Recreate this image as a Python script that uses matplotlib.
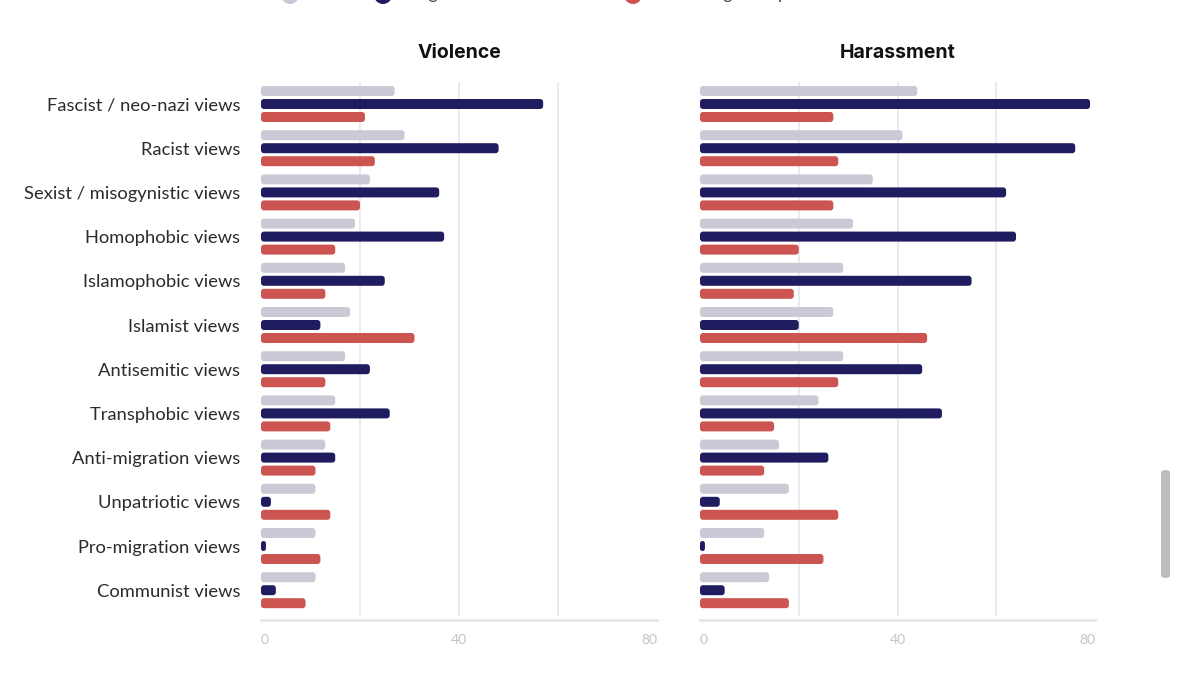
import matplotlib
matplotlib.use("Agg")
import matplotlib.pyplot as plt
from matplotlib.patches import FancyBboxPatch, Ellipse

categories = ["Fascist / neo-nazi views", "Racist views", "Sexist / misogynistic views",
              "Homophobic views", "Islamophobic views", "Islamist views",
              "Antisemitic views", "Transphobic views", "Anti-migration views",
              "Unpatriotic views", "Pro-migration views", "Communist views"]
series = ["All", "Progressive Activists", "Dissenting Disruptors"]
colors = ["#c9cad6", "#1f1c5f", "#cc5552"]

violence_all = [27, 29, 22, 19, 17, 18, 17, 15, 13, 11, 11, 11]
violence_pa = [57, 48, 36, 37, 25, 12, 22, 26, 15, 2, 1, 3]
violence_dd = [21, 23, 20, 15, 13, 31, 13, 14, 11, 14, 12, 9]

harass_all = [44, 41, 35, 31, 29, 27, 29, 24, 16, 18, 13, 14]
harass_pa = [79, 76, 62, 64, 55, 20, 45, 49, 26, 4, 1, 5]
harass_dd = [27, 28, 27, 20, 19, 46, 28, 15, 13, 28, 25, 18]

xticks = [0, 40, 80]

plt.rcParams["font.family"] = ["Lato", "DejaVu Sans"]

W, H = 1179, 675
fig = plt.figure(figsize=(W / 100, H / 100), dpi=100)

# pixel layout
top_px, bottom_px = 82, 620
row0_px, pitch_px = 104, 44.2
y_top = (top_px - row0_px) / pitch_px
y_bot = (bottom_px - row0_px) / pitch_px
offs = 13 / pitch_px
bar_h = 10 / pitch_px


def panel(left_px, right_px, title, data, show_labels):
    ax = fig.add_axes([left_px / W, 1 - bottom_px / H,
                       (right_px - left_px) / W, (bottom_px - top_px) / H])
    ax.set_xlim(0, 80)
    ax.set_ylim(y_bot, y_top)
    px_x = 80 / (right_px - left_px)       # data units per pixel, x
    px_y = 1 / pitch_px                    # data units per pixel, y
    for gx in [20, 40, 60]:
        ax.plot([gx, gx], [y_top, 11.55], color="#e8e8ec", lw=1.2, zorder=0)
    for k, vals in enumerate(data):
        for i, v in enumerate(vals):
            y0 = i + (k - 1) * offs - bar_h / 2
            r = min(3 * px_x, v / 2)
            p = FancyBboxPatch((0, y0), v, bar_h,
                               boxstyle=f"round,pad=0,rounding_size={r}",
                               mutation_aspect=px_y / px_x,
                               fc=colors[k], ec="none", zorder=2)
            ax.add_patch(p)
    for s in ["top", "right", "left"]:
        ax.spines[s].set_visible(False)
    ax.spines["bottom"].set_color("#e2e2e8")
    ax.spines["bottom"].set_linewidth(1.8)
    ax.tick_params(axis="x", length=0, pad=10, labelsize=10, labelcolor="#c4c4c4")
    ax.set_xticks(xticks)
    ax.set_xticklabels([str(t) for t in xticks])
    for lbl, ha in zip(ax.get_xticklabels(), ["left", "center", "right"]):
        lbl.set_ha(ha)
    ax.set_yticks(range(len(categories)))
    if show_labels:
        ax.set_yticklabels(categories, fontsize=13.2, color="#2b2b2b")
        ax.tick_params(axis="y", length=0, pad=15)
    else:
        ax.set_yticklabels([])
        ax.tick_params(axis="y", length=0)
    ax.set_title(title, fontsize=14, fontweight="bold", family=["Inter", "DejaVu Sans"],
                 color="#111111", pad=17)
    return ax


panel(261, 657, "Violence", [violence_all, violence_pa, violence_dd], True)
panel(700, 1095, "Harassment", [harass_all, harass_pa, harass_dd], False)

# legend, mostly cut off at the top edge as in the screenshot
leg_x = [290, 383, 633]
for x, name, c in zip(leg_x, series, colors):
    fig.patches.append(Ellipse((x / W, 1 + 5 / H), 18 / W, 18 / H,
                               transform=fig.transFigure, fc=c, ec="none"))
    fig.text((x + 19) / W, 1 + 6 / H, name, fontsize=12.5, color="#444444",
             va="center", ha="left")

# scrollbar from the screenshot
fig.patches.append(FancyBboxPatch((1161 / W, 1 - 578 / H), 9 / W, 108 / H,
                                  boxstyle="round,pad=0,rounding_size=0.004",
                                  transform=fig.transFigure, fc="#bdbdbd", ec="none"))

fig.savefig("out.png", dpi=100)
